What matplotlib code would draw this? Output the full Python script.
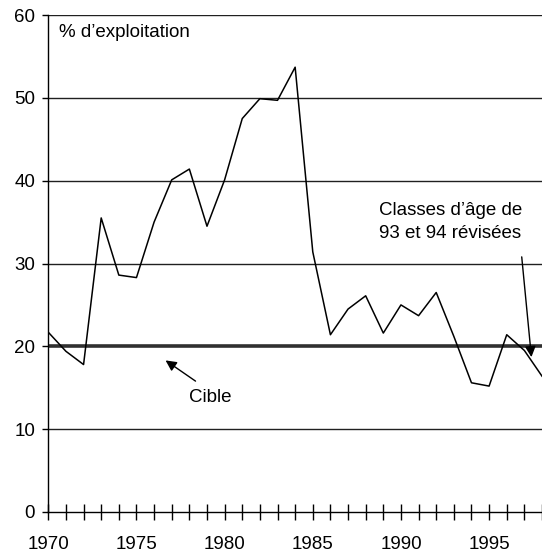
import matplotlib.pyplot as plt

plt.rcParams['font.family'] = ['Liberation Sans', 'DejaVu Sans']

years = list(range(1970, 1999))
exploitation = [21.7, 19.4, 17.8, 35.5, 28.6, 28.3, 35.0, 40.1, 41.4, 34.5,
                40.1, 47.5, 49.9, 49.7, 53.7, 31.4, 21.4, 24.5, 26.1, 21.6,
                25.0, 23.7, 26.5, 21.2, 15.6, 15.2, 21.4, 19.5, 16.4]
cible = 20
yticks = [0, 10, 20, 30, 40, 50, 60]

fs = 13.5

fig = plt.figure(figsize=(5.42, 5.52), dpi=100)
ax = fig.add_axes([48.3 / 542, 40 / 552, 1 - 48.3 / 542, (512 - 15) / 552])

for y in yticks[1:]:
    if y == cible:
        continue
    ax.axhline(y, color='#202020', lw=1.0, zorder=1)
ax.axhline(cible, color='#303030', lw=2.6, zorder=2)

ax.plot(years, exploitation, color='black', lw=1.1, zorder=3)

ax.set_xlim(1970, 1997.8)
ax.set_ylim(0, 60)
ax.set_yticks(yticks)
ax.set_xticks(years)
ax.set_xticklabels([str(y) if y % 5 == 0 else '' for y in years])

for side in ('top', 'right'):
    ax.spines[side].set_visible(False)
ax.spines['left'].set_linewidth(1.0)
ax.spines['bottom'].set_linewidth(1.0)

ax.tick_params(axis='x', direction='inout', length=12, width=1.0,
               labelsize=fs, pad=11)
ax.tick_params(axis='y', direction='out', length=4.5, width=1.0,
               labelsize=fs, pad=5)

ax.text(1970.6, 57.9, '% d\u2019exploitation', fontsize=fs,
        va='center', ha='left')

# fleche de la cible
ax.text(1978.0, 13.8, 'Cible', fontsize=fs, ha='left', va='center')
ax.annotate('', xy=(1976.65, 18.3), xytext=(1978.35, 15.8),
            arrowprops=dict(arrowstyle='-|>', color='black', lw=1.0,
                            mutation_scale=16, shrinkA=0, shrinkB=0))

ax.text(1988.75, 35.0, 'Classes d\u2019\u00e2ge de\n93 et 94 r\u00e9vis\u00e9es',
        fontsize=fs, ha='left', va='center', linespacing=1.45)
ax.annotate('', xy=(1997.4, 18.7), xytext=(1996.85, 30.8),
            arrowprops=dict(arrowstyle='-|>', color='black', lw=1.0,
                            mutation_scale=16, shrinkA=0, shrinkB=0))

fig.savefig('out.png', dpi=100)
